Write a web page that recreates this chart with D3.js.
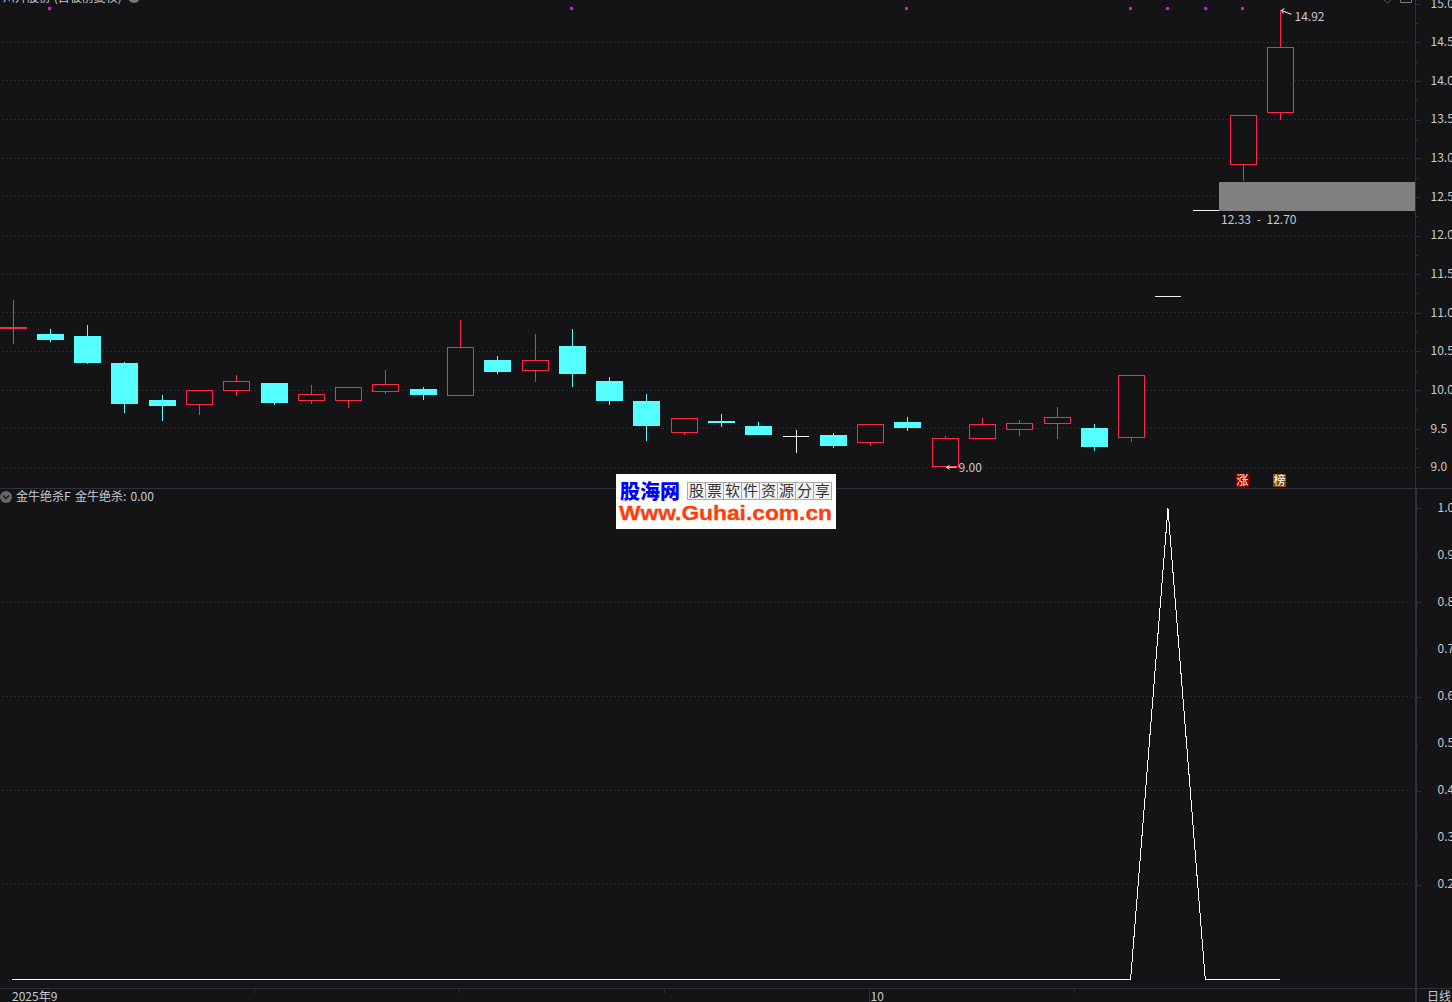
<!DOCTYPE html>
<html><head><meta charset="utf-8">
<style>html,body{margin:0;padding:0;background:#141315;overflow:hidden}svg{display:block}
text{font-family:"Noto Sans CJK SC","Noto Sans",sans-serif}</style>
<script src="https://cdn.jsdelivr.net/npm/d3@7/dist/d3.min.js"></script>
</head><body><svg id="c" width="1452" height="1002"></svg>
<script>
const opens  = [10.79,10.73,10.70,10.35,9.87,9.80,9.99,10.09,9.86,9.86,9.98,10.01,9.92,10.39,10.25,10.57,10.12,9.86,9.45,9.60,9.53,9.41,9.42,9.31,9.59,9.01,9.37,9.48,9.56,9.51,9.38,11.22,12.33,12.91,13.59];
const closes = [10.82,10.65,10.35,9.82,9.79,10.00,10.12,9.83,9.95,10.04,10.08,9.94,10.56,10.23,10.39,10.21,9.86,9.53,9.64,9.57,9.42,9.41,9.28,9.56,9.51,9.38,9.56,9.57,9.65,9.26,10.19,11.22,12.33,13.56,14.44];
const highs  = [11.17,10.79,10.84,10.36,9.94,10.00,10.19,10.09,10.07,10.04,10.26,10.04,10.91,10.44,10.73,10.79,10.17,9.95,9.64,9.69,9.59,9.48,9.44,9.56,9.65,9.41,9.64,9.61,9.78,9.56,10.19,11.22,12.33,13.56,14.92];
const lows   = [10.60,10.62,10.34,9.70,9.60,9.68,9.92,9.81,9.82,9.77,9.95,9.87,9.92,10.21,10.10,10.04,9.81,9.34,9.42,9.52,9.42,9.19,9.25,9.28,9.47,9.00,9.37,9.41,9.37,9.21,9.33,11.22,12.33,12.71,13.50];
const indicator = [0,0,0,0,0,0,0,0,0,0,0,0,0,0,0,0,0,0,0,0,0,0,0,0,0,0,0,0,0,0,0,1,0,0,0];
const signalBars = [1,15,24,30,31,32,33];
const priceTicks = [9,9.5,10,10.5,11,11.5,12,12.5,13,13.5,14,14.5,15];
const priceMinorTicks = [9.25,9.75,10.25,10.75,11.25,11.75,12.25,12.75,13.25,13.75,14.25,14.75];
const indTicks = [1,0.8,0.6,0.4,0.2];
const indMinorTicks = [0.9,0.7,0.5,0.3];
const zoneLow = 12.33, zoneHigh = 12.70;
const priceHigh = 14.92, priceLow = 9.00;
const timeMajor = [1,23];
const timeMinor = [6.5,12,17.5,28.5];
const timeLabels = ["2025年9","10"];
const watermarkCells = ["股","票","软","件","资","源","分","享"];

const RED="#ff2a47", CYAN="#55ffff", AXIS="#2f323c", GRID="#383838", TXT="#c5ccd3", W="#f2f2f2";
const svg=d3.select("#c");
svg.append("rect").attr("width",1452).attr("height",1002).attr("fill","#141315");
const x=d3.scaleLinear().domain([0,34]).range([13.1,1280.79]);
const y=d3.scaleLinear().domain([9,15]).range([467.3,3.7]);
const y2=d3.scaleLinear().domain([0,1]).range([979,508.3]);
const cx=i=>Math.floor(x(i))+.5;
const topY=v=>Math.round(y(v))+.5, botY=v=>Math.round(y(v))-.5;

// grid
const grid=svg.append("g").attr("stroke",GRID).attr("stroke-dasharray","1,3");
grid.selectAll(".a").data(priceTicks.slice(0,-1)).join("line").attr("class","a")
  .attr("x1",3).attr("x2",1413).attr("y1",d=>Math.floor(y(d))+.5).attr("y2",d=>Math.floor(y(d))+.5);
grid.selectAll(".b").data(indTicks.slice(1)).join("line").attr("class","b")
  .attr("x1",3).attr("x2",1413).attr("y1",d=>Math.floor(y2(d))+.5).attr("y2",d=>Math.floor(y2(d))+.5);

// zone
const zx0=cx(32)+12.5, zy0=Math.ceil(y(zoneHigh)), zy1=Math.ceil(y(zoneLow));
svg.append("rect").attr("x",zx0).attr("width",1415-zx0).attr("y",zy0).attr("height",zy1-zy0).attr("fill","#808080");
svg.append("text").attr("x",1221).attr("y",zy1+13).attr("font-size",12).attr("fill",TXT)
  .attr("word-spacing",3).text(`${zoneLow.toFixed(2)} - ${zoneHigh.toFixed(2)}`);

// candles
const idx=d3.range(opens.length);
const isDoji=i=>opens[i]===closes[i];
const col=i=>{ if(isDoji(i)) return W; return closes[i]>=opens[i]?RED:CYAN; };
const c=svg.append("g").attr("shape-rendering","crispEdges");
c.selectAll(".w").data(idx.filter(i=>highs[i]>lows[i])).join("line").attr("class","w")
  .attr("x1",cx).attr("x2",cx).attr("y1",i=>y(highs[i])).attr("y2",i=>y(lows[i])).attr("stroke",col);
c.selectAll(".b").data(idx.filter(i=>!isDoji(i))).join("rect").attr("class","b")
  .attr("x",i=>cx(i)-13).attr("width",26)
  .attr("y",i=>topY(Math.max(opens[i],closes[i])))
  .attr("height",i=>Math.max(1,botY(Math.min(opens[i],closes[i]))-topY(Math.max(opens[i],closes[i]))))
  .attr("fill",i=>col(i)===CYAN?CYAN:"#141315").attr("stroke",col);
c.selectAll(".d").data(idx.filter(isDoji)).join("line").attr("class","d")
  .attr("x1",i=>cx(i)-14).attr("x2",i=>cx(i)+12).attr("y1",i=>Math.round(y(opens[i]))+.5).attr("y2",i=>Math.round(y(opens[i]))+.5)
  .attr("stroke",W);

// signals
svg.append("g").attr("shape-rendering","crispEdges").selectAll("rect").data(signalBars).join("rect")
  .attr("x",i=>Math.floor(x(i))-2).attr("y",7).attr("width",3).attr("height",3).attr("fill","#ff00ff");

// high/low annotation
const ann=svg.append("g").attr("stroke",W).attr("fill","none");
const hx=cx(34), hy=y(priceHigh), lx=cx(25), ly=y(priceLow);
ann.append("path").attr("d",`M${hx+1},${hy+.5}L${hx+11},${hy+4.5}M${hx+1},${hy+.5}l3,-2M${hx+1},${hy+.5}l2,3`);
ann.append("path").attr("d",`M${lx+1},${ly}H${lx+11}M${lx+1},${ly}l3,-2M${lx+1},${ly}l3,2`);
svg.append("text").attr("x",hx+14).attr("y",hy+11).attr("font-size",12).attr("fill",TXT).text(priceHigh.toFixed(2));
svg.append("text").attr("x",lx+13).attr("y",ly+4.5).attr("font-size",12).attr("fill",TXT).text(priceLow.toFixed(2));

// indicator line
svg.append("path").datum(indicator).attr("fill","none").attr("stroke","#ffffff").attr("shape-rendering","crispEdges")
  .attr("d",d3.line().x((d,i)=>x(i)-1).y(d=>y2(d)));

// frames
const fr=svg.append("g").attr("stroke",AXIS).attr("shape-rendering","crispEdges");
fr.append("line").attr("x1",0).attr("x2",1452).attr("y1",488.5).attr("y2",488.5);
fr.append("line").attr("x1",0).attr("x2",1452).attr("y1",988.5).attr("y2",988.5);
fr.append("line").attr("x1",1415.5).attr("x2",1415.5).attr("y1",0).attr("y2",489);
fr.append("line").attr("x1",1416).attr("x2",1416).attr("y1",489).attr("y2",1002).attr("stroke-width",2);

// y axes
function yAxis(scale,maj,min,fmt,pad,dy){
  const g=svg.append("g").attr("transform","translate(1415.5,0)");
  g.call(d3.axisRight(scale).tickValues(maj).tickSize(5).tickPadding(pad).tickFormat(fmt));
  g.append("g").call(d3.axisRight(scale).tickValues(min).tickSize(2).tickPadding(pad+3).tickFormat(fmt));
  g.selectAll(".domain").remove();
  g.selectAll("line").attr("stroke",AXIS).attr("shape-rendering","crispEdges");
  g.selectAll("text").attr("fill",TXT).attr("font-size",12).attr("y",0).attr("dy",dy)
    .attr("font-family",'"Noto Sans CJK SC",sans-serif');
  return g;
}
const pa=yAxis(y,priceTicks,[],d3.format(".1f"),10,"0.28em");
pa.append("g").call(d3.axisRight(y).tickValues(priceMinorTicks).tickSize(2).tickFormat(""))
  .call(g=>{g.select(".domain").remove();g.selectAll("line").attr("stroke",AXIS).attr("shape-rendering","crispEdges");});
yAxis(y2,indTicks,indMinorTicks,d3.format(".1f"),17,"0.24em");

// time axis
const t=svg.append("g").attr("stroke",AXIS).attr("shape-rendering","crispEdges");
t.selectAll(".m").data(timeMajor).join("line").attr("class","m").attr("x1",i=>cx(i)-1).attr("x2",i=>cx(i)-1).attr("y1",989).attr("y2",1002);
t.selectAll(".n").data(timeMinor).join("line").attr("class","n").attr("x1",i=>cx(i)-1).attr("x2",i=>cx(i)-1).attr("y1",989).attr("y2",993);
svg.append("text").attr("x",12).attr("y",1001).attr("font-size",12).attr("fill",TXT).text(timeLabels[0]);
svg.append("text").attr("x",cx(23)).attr("y",1001).attr("font-size",12).attr("fill",TXT).text(timeLabels[1]);
svg.append("text").attr("x",1427).attr("y",1001).attr("font-size",12).attr("fill",TXT).text("日线");

// header texts
svg.append("text").attr("x",3).attr("y",2).attr("font-size",12).attr("fill",TXT).text("川升股份 (首板前复权)");
svg.append("circle").attr("cx",134).attr("cy",-3).attr("r",6).attr("fill","#777");
svg.append("path").attr("d","M1384,0l3.5,3l3.5,-3").attr("fill","none").attr("stroke","#555");
svg.append("path").attr("d","M1400.5,0V2.5H1411.5V0").attr("fill","none").attr("stroke","#777");
svg.append("circle").attr("cx",6).attr("cy",497).attr("r",6).attr("fill","#666");
svg.append("path").attr("d","M3,495.5l3,3l3,-3").attr("fill","none").attr("stroke","#1a1a1a").attr("stroke-width",1.5);
svg.append("text").attr("x",16).attr("y",501).attr("font-size",12).attr("fill",TXT).text("金牛绝杀F");
svg.append("text").attr("x",75).attr("y",501).attr("font-size",12).attr("fill",TXT).attr("word-spacing",1.5).text("金牛绝杀: 0.00");

// badges
[["涨","#8a0000",1236],["榜","#80480a",1273]].forEach(([s,f,px])=>{
  svg.append("rect").attr("x",px).attr("y",474).attr("width",13).attr("height",13).attr("fill",f);
  svg.append("text").attr("x",px+6.5).attr("y",485).attr("text-anchor","middle").attr("font-size",12).attr("fill","#fff").text(s);
});

// watermark
const wm=svg.append("g");
wm.append("rect").attr("x",616).attr("y",474).attr("width",220).attr("height",55).attr("fill","#fff");
wm.append("text").attr("x",620).attr("y",499).attr("font-size",20).attr("font-weight",900).attr("fill","#0000ff").text("股海网");
wm.selectAll(".cell").data(watermarkCells).join("g").attr("class","cell").each(function(d,i){
  const g=d3.select(this), px=687.5+i*18;
  g.append("rect").attr("x",px).attr("y",482.5).attr("width",18).attr("height",17).attr("fill","#f2f2f2").attr("stroke","#aaa");
  g.append("text").attr("x",px+9).attr("y",496).attr("text-anchor","middle").attr("font-size",15).attr("fill","#333").text(d);
});
wm.append("text").attr("x",619).attr("y",520).attr("font-size",20.5).attr("font-weight",700)
  .attr("textLength",213).attr("lengthAdjust","spacingAndGlyphs").attr("fill","#ff3d0d")
  .attr("stroke","#ff3d0d").attr("stroke-width",.3)
  .style("font-family",'"Liberation Sans",Arial,sans-serif').text("Www.Guhai.com.cn");
</script></body></html>
